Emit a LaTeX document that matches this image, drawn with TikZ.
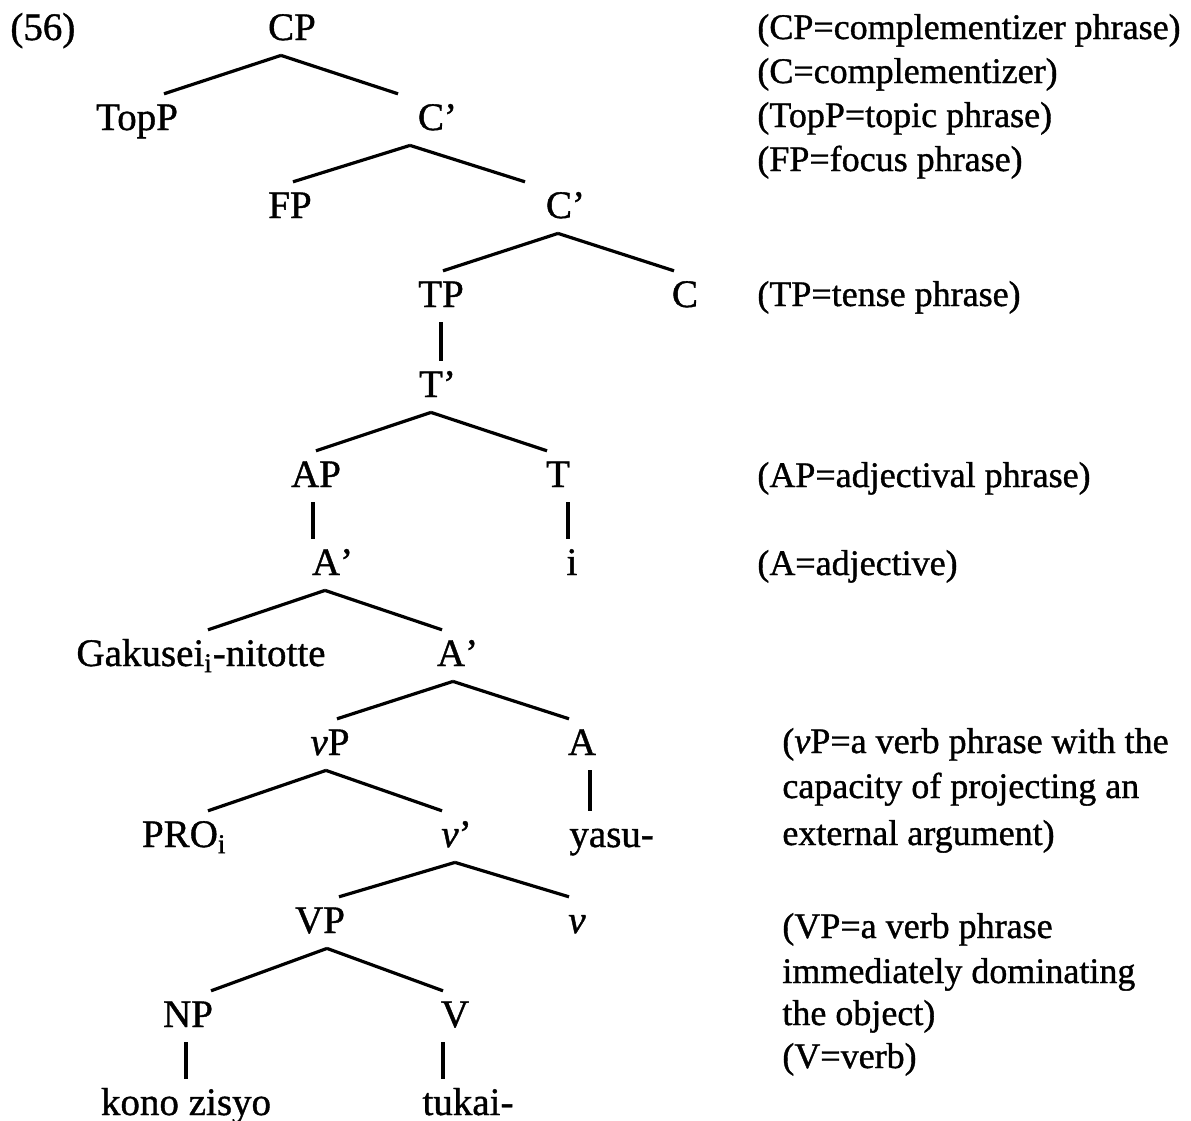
\documentclass[tikz,border=0pt]{standalone}
\usepackage{fontspec}
\setmainfont{Liberation Serif}[FakeBold=1]
\begin{document}
\begin{tikzpicture}[x=0.5pt,y=-0.5pt,
  every node/.style={font=\fontsize{19.5}{22}\selectfont},
  lab/.style={anchor=base,inner sep=0pt,text height=12.9pt,text depth=7.5pt},
  note/.style={anchor=base west,inner sep=0pt,font=\fontsize{18}{22}\selectfont},
  br/.style={line width=1.6pt},
  stem/.style={line width=1.6pt,shorten >=5pt}]
\useasboundingbox (0,0) rectangle (1191,1121);
\node[anchor=base west,inner sep=0pt] (ex) at (10,40) {(56)};
% tree
\node[lab] (cp) at (292,40) {CP};
\node[lab] (topp) at (137,130) {TopP};
\node[lab] (c1) at (431,130) {C\rlap{'}};
\node[lab] (fp) at (290,218) {FP};
\node[lab] (c2) at (559,218) {C\rlap{'}};
\node[lab] (tp) at (441,307) {TP};
\node[lab] (c) at (685,307) {C};
\node[lab] (t1) at (431,397) {T\rlap{'}};
\node[lab] (ap) at (316,487) {AP};
\node[lab] (t) at (558,487) {T};
\node[lab] (i) at (572,575) {i};
\node[lab] (a1) at (326,575) {A\rlap{'}};
\node[lab] (gak) at (201,666) {Gakusei\textsubscript{i}-nitotte};
\node[lab] (a2) at (451,666) {A\rlap{'}};
\node[lab] (vp) at (330,755) {\textit{v}P};
\node[lab] (a) at (582,755) {A};
\node[lab] (pro) at (180,847) {PRO\rlap{\textsubscript{i}}};
\node[lab] (v1) at (450,847) {\textit{v}\rlap{'}};
\node[lab,anchor=base west] (yasu) at (569,847) {yasu-};
\node[lab] (vpb) at (320,933) {VP};
\node[lab] (vs) at (577,933) {\textit{v}};
\node[lab] (np) at (188,1027) {NP};
\node[lab] (vv) at (455,1027) {V};
\node[lab] (kono) at (186,1115) {kono zisyo};
\node[lab] (tukai) at (468,1115) {tukai-};
% branches: parent/child/top shift/foot shift
\foreach \p/\c/\s/\e in {cp/topp/-5.5/13.5, cp/c1/-5.5/-16.5, c1/fp/-10.5/1.5,
  c1/c2/-10.5/-17, c2/tp/-0.5/1, c2/c/-0.5/-5.5, t1/ap/0/0, t1/t/0/-5.5,
  a1/gak/-0.5/3.5, a1/a2/-0.5/-4.5, a2/vp/1/3.5, a2/a/1/-6.5,
  vp/pro/-2/14, vp/v1/-2/-4, v1/vpb/2.5/9.5, v1/vs/2.5/-4,
  vpb/np/3.5/11.5, vpb/vv/3.5/-6}
  \draw[br] ([xshift=\s pt]\p.south) -- ([xshift=\e pt,yshift=5pt]\c.north);
\foreach \p/\c/\s in {tp/t1/0, ap/a1/-1.5, t/i/5, a/yasu/4, np/kono/-1, vv/tukai/-6}
  \draw[stem] ([xshift=\s pt]\p.south) -- ([xshift=\s pt]\p.south |- \c.north);
% notes
\foreach \x/\y/\t [count=\n] in {757/39/{(CP=complementizer phrase)},
  757/83/{(C=complementizer)}, 757/127/{(TopP=topic phrase)},
  757/171/{(FP=focus phrase)}, 757/306/{(TP=tense phrase)},
  757/487/{(AP=adjectival phrase)}, 757/575/{(A=adjective)},
  782/753/{(\textit{v}P=a verb phrase with the}, 782/798/{capacity of projecting an},
  782/845/{external argument)}, 782/938/{(VP=a verb phrase},
  782/983/{immediately dominating}, 782/1025/{the object)}, 782/1068/{(V=verb)}}
  \node[note] (note\n) at (\x,\y) {\t};
\end{tikzpicture}
\end{document}
